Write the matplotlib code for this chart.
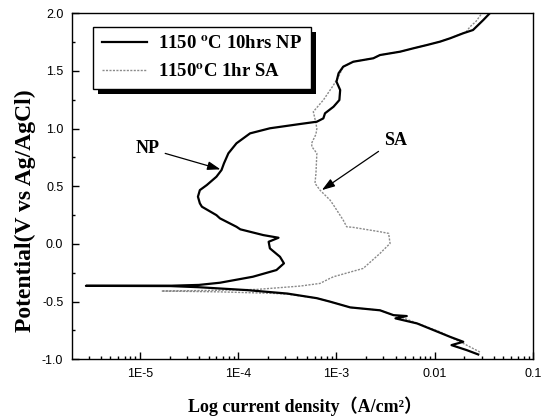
import matplotlib
matplotlib.use("Agg")
import matplotlib.pyplot as plt
import numpy as np
from matplotlib.ticker import FixedLocator, LogLocator, MultipleLocator, NullFormatter
from matplotlib.patches import Rectangle

# ---- data (current density A/cm^2, potential V vs Ag/AgCl) ----
np_current = [2.77e-2, 2.11e-2, 1.48e-2, 1.95e-2, 1.43e-2, 6.61e-3, 3.98e-3, 5.19e-3,
              3.80e-3, 2.77e-3, 1.38e-3, 8.59e-4, 6.31e-4, 3.16e-4, 1.23e-4, 3.98e-5, 2.04e-5,
              2.82e-6, 2.04e-5, 3.98e-5, 6.52e-5, 1.41e-4, 2.45e-4, 2.92e-4, 2.66e-4,
              2.10e-4, 2.04e-4, 2.57e-4, 1.80e-4, 1.05e-4, 9.60e-5, 6.52e-5, 6.00e-5,
              4.27e-5, 4.07e-5, 3.89e-5, 4.07e-5, 4.79e-5, 6.00e-5, 6.76e-5, 7.16e-5,
              7.94e-5, 9.60e-5, 1.32e-4, 2.10e-4, 4.25e-4, 6.31e-4, 7.35e-4, 7.64e-4,
              9.33e-4, 1.07e-3, 1.09e-3, 1.00e-3, 1.05e-3, 1.17e-3, 1.48e-3, 2.37e-3,
              2.77e-3, 4.43e-3, 6.03e-3, 8.32e-3, 1.13e-2, 1.43e-2, 1.95e-2, 2.45e-2,
              2.77e-2, 3.12e-2, 3.63e-2]
np_potential = [-0.958, -0.920, -0.877, -0.848, -0.805, -0.689, -0.645, -0.625,
                -0.617, -0.575, -0.550, -0.500, -0.470, -0.430, -0.400, -0.375, -0.365,
                -0.363, -0.362, -0.355, -0.336, -0.284, -0.226, -0.168, -0.111,
                -0.038, 0.019, 0.054, 0.077, 0.127, 0.149, 0.222, 0.250,
                0.323, 0.352, 0.410, 0.467, 0.511, 0.583, 0.641, 0.699,
                0.786, 0.873, 0.959, 1.003, 1.040, 1.060, 1.089, 1.133,
                1.190, 1.248, 1.335, 1.407, 1.480, 1.537, 1.580, 1.610,
                1.638, 1.667, 1.696, 1.725, 1.754, 1.783, 1.827, 1.855,
                1.899, 1.942, 2.000]

sa_current = [2.88e-2, 2.11e-2, 1.13e-2, 4.43e-3, 3.80e-3, 2.77e-3, 1.38e-3, 8.59e-4, 6.31e-4,
              3.16e-4, 2.24e-4, 6.31e-5, 1.66e-5, 5.01e-5, 1.55e-4, 4.27e-4, 6.79e-4,
              8.59e-4, 9.33e-4, 1.87e-3, 2.04e-3, 2.77e-3, 3.51e-3, 3.39e-3, 2.77e-3,
              1.48e-3, 1.27e-3, 1.17e-3, 9.33e-4, 8.59e-4, 6.79e-4, 6.04e-4, 6.18e-4,
              6.31e-4, 5.62e-4, 5.58e-4, 6.17e-4, 6.31e-4, 6.17e-4, 5.81e-4, 7.35e-4,
              9.33e-4, 1.05e-3, 1.17e-3, 1.48e-3, 2.37e-3, 2.77e-3, 4.43e-3, 6.03e-3,
              8.32e-3, 1.13e-2, 1.43e-2, 2.09e-2, 2.29e-2, 2.63e-2, 3.02e-2]
sa_potential = [-0.937, -0.877, -0.762, -0.631, -0.617, -0.575, -0.550, -0.500, -0.470,
                -0.435, -0.428, -0.415, -0.408, -0.403, -0.394, -0.365, -0.342,
                -0.298, -0.284, -0.212, -0.183, -0.082, 0.005, 0.092, 0.106,
                0.144, 0.149, 0.207, 0.337, 0.381, 0.467, 0.526, 0.612,
                0.786, 0.843, 0.873, 0.950, 1.000, 1.050, 1.147, 1.248,
                1.378, 1.450, 1.537, 1.580, 1.610, 1.638, 1.667, 1.696,
                1.725, 1.754, 1.783, 1.840, 1.884, 1.930, 2.000]

x_ticks = [1e-5, 1e-4, 1e-3, 1e-2, 1e-1]
x_ticklabels = ["1E-5", "1E-4", "1E-3", "0.01", "0.1"]
y_ticks = [-1.0, -0.5, 0.0, 0.5, 1.0, 1.5, 2.0]
y_ticklabels = ["-1.0", "-0.5", "0.0", "0.5", "1.0", "1.5", "2.0"]
legend_labels = [r"1150 $^{\mathbf{o}}$C 10hrs NP", r"1150$^{\mathbf{o}}$C 1hr SA"]

plt.rcParams["mathtext.fontset"] = "stix"
serif = ["Liberation Serif", "DejaVu Serif"]
sans = ["Liberation Sans", "DejaVu Sans"]

fig = plt.figure(figsize=(5.49, 4.18), dpi=100)
ax = fig.add_axes([0.1306, 0.1404, 0.8403, 0.8278])

ax.plot(np_current, np_potential, color="black", lw=1.6, label=legend_labels[0], zorder=3)
ax.plot(sa_current, sa_potential, color="#8a8a8a", lw=1.0, ls=(0, (1.5, 1)),
        label=legend_labels[1], zorder=2)

ax.set_xscale("log")
ax.set_xlim(2.02e-6, 0.1)
ax.set_ylim(-1.0, 2.0)
ax.xaxis.set_major_locator(FixedLocator(x_ticks))
ax.set_xticklabels(x_ticklabels)
ax.xaxis.set_minor_locator(LogLocator(base=10, subs=np.arange(2, 10)))
ax.xaxis.set_minor_formatter(NullFormatter())
ax.set_yticks(y_ticks)
ax.set_yticklabels(y_ticklabels)
ax.yaxis.set_minor_locator(MultipleLocator(0.25))

ax.tick_params(which="both", direction="in", top=False, right=False, width=1.0)
ax.tick_params(which="major", length=5)
ax.tick_params(which="minor", length=2.5)
ax.tick_params(axis="x", pad=6)
ax.tick_params(axis="y", pad=6)
for lab in ax.get_xticklabels() + ax.get_yticklabels():
    lab.set_fontfamily(sans)
    lab.set_fontsize(9)
for s in ax.spines.values():
    s.set_linewidth(1.0)

ax.set_xlabel("Log current density\uff08A/cm\u00b2\uff09",
              fontfamily=["Liberation Serif", "Noto Sans CJK SC"], fontweight="bold", fontsize=13)
ax.set_ylabel("Potential(V vs Ag/AgCl)", fontfamily=serif, fontweight="bold", fontsize=17)
ax.xaxis.set_label_coords(0.506, -0.108)
ax.yaxis.set_label_coords(-0.078, 0.43)

arrow = dict(arrowstyle="-|>,head_length=0.6,head_width=0.2", color="black", lw=0.9,
             shrinkA=2, shrinkB=0)
ax.annotate("NP", xy=(6.6e-5, 0.647), xytext=(1.2e-5, 0.829), fontfamily=serif,
            fontweight="bold", fontsize=13, ha="center", va="center", arrowprops=arrow)
ax.annotate("SA", xy=(7.1e-4, 0.467), xytext=(3.95e-3, 0.901), fontfamily=serif,
            fontweight="bold", fontsize=13, ha="center", va="center", arrowprops=arrow)

leg = ax.legend(loc="upper left", bbox_to_anchor=(0.047, 0.961), borderaxespad=0,
                prop={"family": serif, "weight": "bold", "size": 13.5},
                fancybox=False, framealpha=1, edgecolor="black", handlelength=2.4,
                handletextpad=0.6, borderpad=0.45, labelspacing=0.55)
leg.get_frame().set_linewidth(1.0)
leg.set_zorder(5)

fig.canvas.draw()
bb = leg.get_window_extent().transformed(fig.transFigure.inverted())
dx, dy = 5 / 549, 5 / 418
shadow = Rectangle((bb.x0 + dx, bb.y0 - dy), bb.width, bb.height, transform=fig.transFigure,
                   facecolor="black", edgecolor="none", zorder=4)
ax.add_artist(shadow)
shadow.set_clip_on(False)

fig.savefig("out.png", dpi=100)
